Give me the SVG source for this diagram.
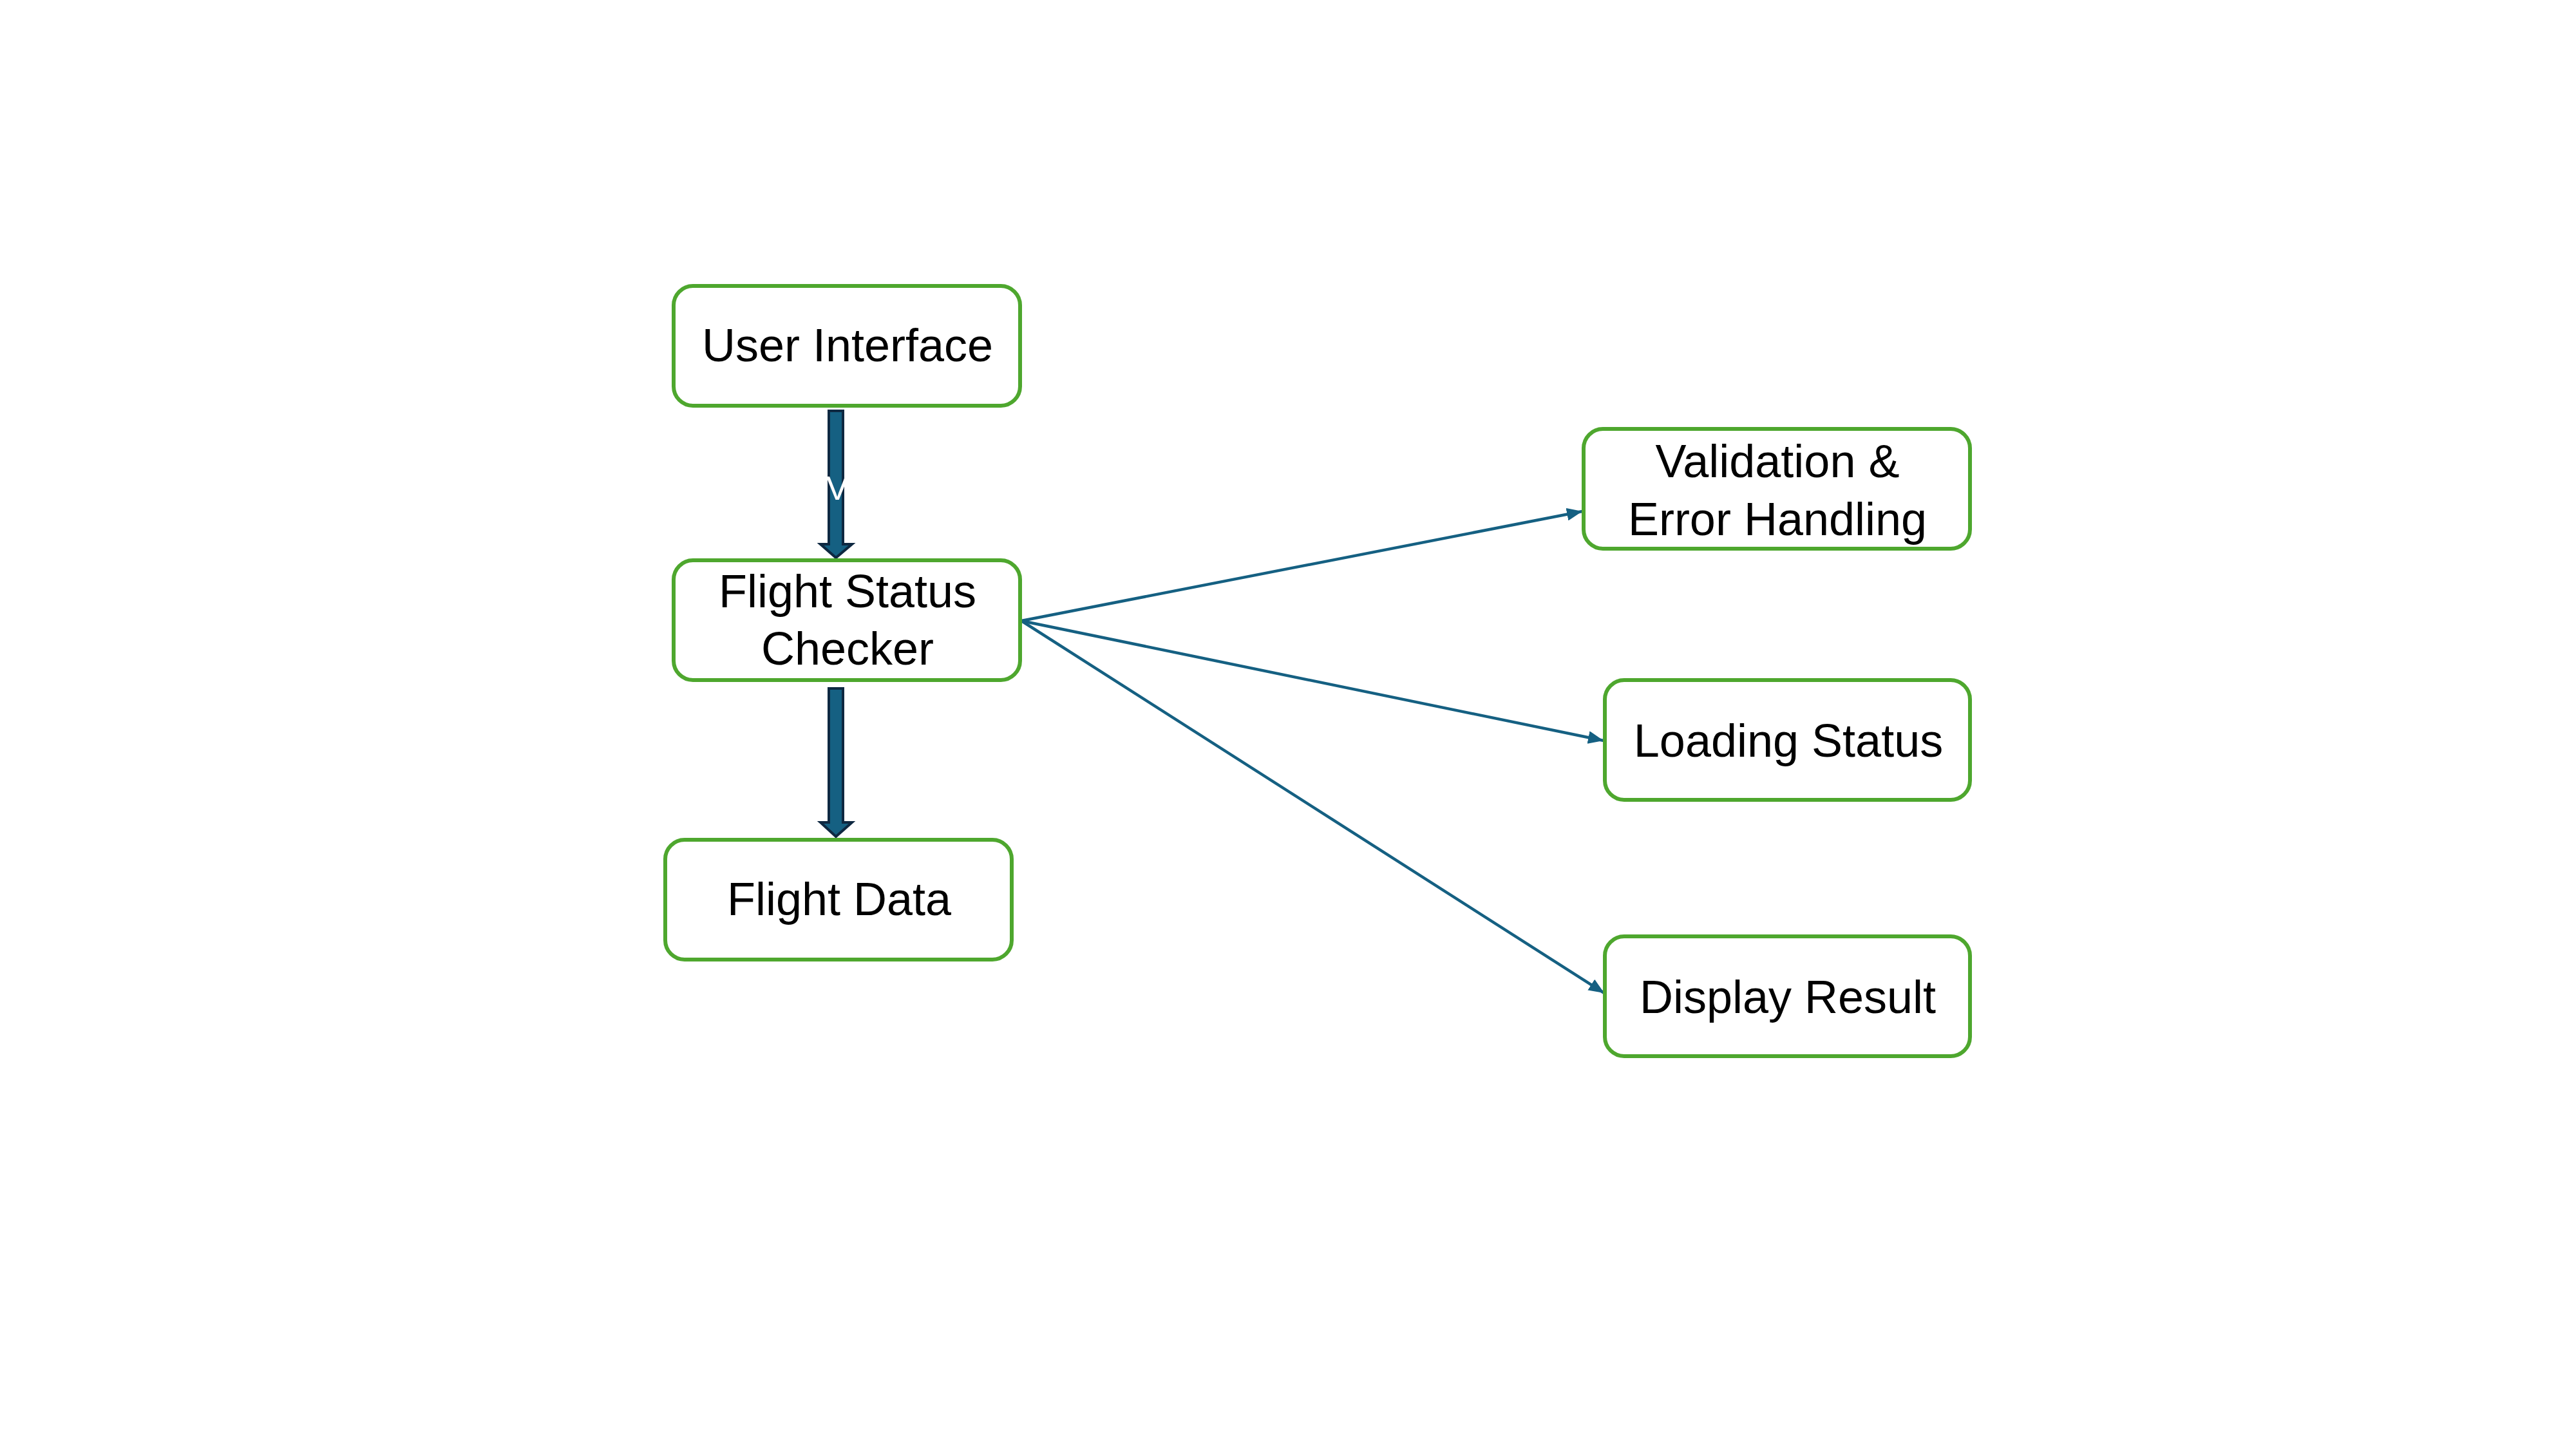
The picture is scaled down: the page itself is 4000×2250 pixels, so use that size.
<svg xmlns="http://www.w3.org/2000/svg" width="4000" height="2250" viewBox="0 0 4000 2250">
  <style>
    .box { fill: #ffffff; stroke: #4ea72e; stroke-width: 6; }
    .lbl { font-family: "Liberation Sans", Arial, sans-serif; font-size: 72px; fill: #000000; text-anchor: middle; }
    .conn { fill: none; stroke: #156082; stroke-width: 4.5; }
    .block { fill: #156082; stroke: #0e2841; stroke-width: 4; stroke-linejoin: miter; }
  </style>
  <defs>
    <marker id="arrow" markerUnits="userSpaceOnUse" markerWidth="26" markerHeight="20" refX="24" refY="10" orient="auto">
      <path d="M0,0 L24,10 L0,20 Z" fill="#156082"/>
    </marker>
  </defs>
  <rect width="4000" height="2250" fill="#ffffff"/>

  <g id="connectors">
    <polygon class="block" points="1287,638 1309,638 1309,845 1323,845 1298,866 1274,845 1287,845"/>
    <text x="1300" y="776" font-family="Liberation Sans, Arial, sans-serif" font-size="52" fill="#ffffff" text-anchor="middle">V</text>
    <polygon class="block" points="1287,1069 1309,1069 1309,1277 1323,1277 1298,1299 1274,1277 1287,1277"/>
    <path class="conn" d="M1586,964 L2457,794" marker-end="url(#arrow)"/>
    <path class="conn" d="M1586,964 L2490,1150" marker-end="url(#arrow)"/>
    <path class="conn" d="M1586,964 L2491,1542" marker-end="url(#arrow)"/>
  </g>

  <g id="node-user-interface">
    <rect class="box" x="1046" y="444" width="538" height="186" rx="30"/>
    <text class="lbl" x="1316" y="561">User Interface</text>
  </g>
  <g id="node-flight-status-checker">
    <rect class="box" x="1046" y="870" width="538" height="186" rx="30"/>
    <text class="lbl" x="1316" y="943">Flight Status</text>
    <text class="lbl" x="1316" y="1032">Checker</text>
  </g>
  <g id="node-flight-data">
    <rect class="box" x="1033" y="1304" width="538" height="186" rx="30"/>
    <text class="lbl" x="1303" y="1421">Flight Data</text>
  </g>
  <g id="node-validation">
    <rect class="box" x="2459" y="666" width="600" height="186" rx="30"/>
    <text class="lbl" x="2760" y="741">Validation &amp;</text>
    <text class="lbl" x="2760" y="831">Error Handling</text>
  </g>
  <g id="node-loading-status">
    <rect class="box" x="2492" y="1056" width="567" height="186" rx="30"/>
    <text class="lbl" x="2777" y="1175">Loading Status</text>
  </g>
  <g id="node-display-result">
    <rect class="box" x="2492" y="1454" width="567" height="186" rx="30"/>
    <text class="lbl" x="2776" y="1573">Display Result</text>
  </g>
</svg>
